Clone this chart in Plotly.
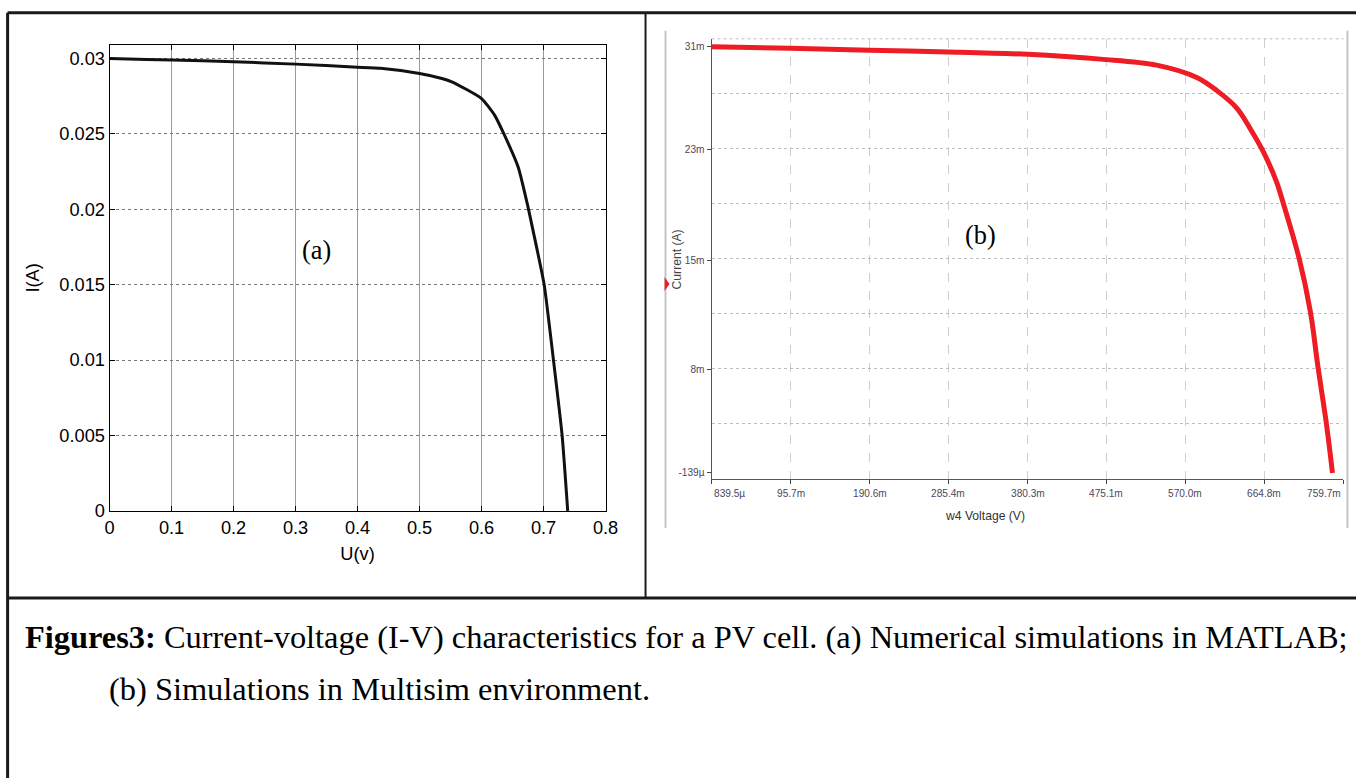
import plotly.graph_objects as go

# ---------------- data ----------------
# (a) MATLAB simulation
volt_a = [0.0, 0.06, 0.1, 0.2, 0.3, 0.4, 0.437, 0.5, 0.536, 0.552, 0.6, 0.621, 0.637,
          0.659, 0.675, 0.683, 0.701, 0.716, 0.730, 0.739]
curr_a = [0.0300, 0.02992, 0.02989, 0.02978, 0.02962, 0.02942, 0.02934, 0.0290, 0.02867,
          0.02845, 0.02734, 0.02624, 0.02491, 0.0228, 0.02014, 0.0186, 0.0150, 0.0100,
          0.0050, 0.0]
xticks_a = [0, 0.1, 0.2, 0.3, 0.4, 0.5, 0.6, 0.7, 0.8]
xticklabels_a = ["0", "0.1", "0.2", "0.3", "0.4", "0.5", "0.6", "0.7", "0.8"]
yticks_a = [0, 0.005, 0.01, 0.015, 0.02, 0.025, 0.03]
yticklabels_a = ["0", "0.005", "0.01", "0.015", "0.02", "0.025", "0.03"]

# (b) Multisim simulation (V, A)
volt_b = [0.00084, 0.0957, 0.1906, 0.2854, 0.3803, 0.4679, 0.5352, 0.5836, 0.6081,
          0.6316, 0.6481, 0.6640, 0.6801, 0.6853, 0.7069, 0.7201, 0.7289, 0.7393, 0.7465]
curr_b = [0.0310, 0.03089, 0.03074, 0.03063, 0.03045, 0.03010, 0.02966, 0.02876,
          0.02778, 0.02652, 0.02498, 0.02327, 0.02101, 0.0200, 0.01543, 0.01160,
          0.00770, 0.00342, -0.000139]
xticks_b = [0.0008395, 0.0957, 0.1906, 0.2854, 0.3803, 0.4751, 0.5700, 0.6648, 0.7597]
xticklabels_b = ["839.5\u00b5", "95.7m", "190.6m", "285.4m", "380.3m", "475.1m",
                 "570.0m", "664.8m", "759.7m"]
yticks_b = [0.0310, 0.0235, 0.0154, 0.0074, -0.000139]
yticklabels_b = ["31m", "23m", "15m", "8m", "-139\u00b5"]
ygrid_b_start = -0.000579
ygrid_b_step = 0.0040205

caption_bold = "Figures3:"
caption_line1 = " Current-voltage (I-V) characteristics for a PV cell. (a) Numerical simulations in MATLAB;"
caption_line2 = "(b) Simulations in Multisim environment."

# the page is photographed slightly reduced; compensate
S = 0.987
W, H = 1374, 788
def px(x):
    return ((x - 4.4) / S) / W
def py(y):
    return 1 - ((y + 0.8) / S) / H
def fs(v):
    return v / S

fig = go.Figure()

fig.add_trace(go.Scatter(x=volt_a, y=curr_a, mode="lines",
                         line=dict(color="#111111", width=3, shape="spline", smoothing=0.5),
                         xaxis="x", yaxis="y", showlegend=False, hoverinfo="skip"))

fig.add_trace(go.Scatter(x=volt_b, y=curr_b, mode="lines",
                         line=dict(color="#ee1c25", width=5, shape="spline", smoothing=1.0),
                         xaxis="x2", yaxis="y2", showlegend=False, hoverinfo="skip"))
# dummy trace so the label axis (y3) gets drawn
fig.add_trace(go.Scatter(x=[None], y=[None], xaxis="x2", yaxis="y3", showlegend=False,
                         hoverinfo="skip"))

sans = "Liberation Sans, Arial, sans-serif"
narrow = "Liberation Sans Narrow, Arial Narrow, Liberation Sans, Arial, sans-serif"
serif = "Liberation Serif, Times New Roman, serif"

yr_b = [ygrid_b_start, ygrid_b_start + 8 * ygrid_b_step + 1e-7]

layout = dict(
    width=W, height=H, margin=dict(l=0, r=0, t=0, b=0),
    paper_bgcolor="white", plot_bgcolor="white", showlegend=False,
    xaxis=dict(domain=[px(109), px(605)], range=[0, 0.8], tickvals=xticks_a,
               ticktext=xticklabels_a, ticks="inside", ticklen=5, tickcolor="black",
               showline=True, linecolor="black", linewidth=1, mirror="ticks",
               showgrid=True, gridcolor="#9a9a9a", gridwidth=1, zeroline=False,
               tickfont=dict(family=sans, size=fs(18), color="black"),
               title=dict(text="U(v)", font=dict(family=sans, size=fs(18), color="black"), standoff=10),
               anchor="y"),
    yaxis=dict(domain=[py(510), py(44)], range=[0, 0.0309], tickvals=yticks_a,
               ticktext=yticklabels_a, ticks="inside", ticklen=5, tickcolor="black",
               showline=True, linecolor="black", linewidth=1, mirror="ticks",
               showgrid=True, gridcolor="#777777", griddash="dot", gridwidth=1, zeroline=False,
               tickfont=dict(family=sans, size=fs(18), color="black"),
               title=dict(text="I(A)", font=dict(family=sans, size=fs(18), color="black"), standoff=14),
               anchor="x"),
    xaxis2=dict(domain=[px(711), px(1343)], range=[xticks_b[0], xticks_b[-1] + 1e-5],
                tickvals=xticks_b, showticklabels=False, ticks="outside", ticklen=4,
                tickcolor="#444", showline=True, linecolor="#555", linewidth=1,
                showgrid=True, gridcolor="#cfcfcf", griddash="dash", gridwidth=1,
                zeroline=False, anchor="y2"),
    yaxis2=dict(domain=[py(478), py(38)], range=yr_b,
                tick0=ygrid_b_start, dtick=ygrid_b_step, tickmode="linear",
                showticklabels=False, ticks="", showline=True, linecolor="#555", linewidth=1,
                showgrid=True, gridcolor="#bdbdbd", griddash="dot", gridwidth=1,
                zeroline=False, anchor="x2"),
    yaxis3=dict(overlaying="y2", range=yr_b, domain=[py(478), py(38)],
                tickvals=yticks_b, ticktext=yticklabels_b, ticks="outside", ticklen=4,
                tickcolor="#444", showgrid=False, zeroline=False, showline=False,
                tickfont=dict(family=narrow, size=fs(10), color="#4f4560"), anchor="x2",
                side="left"),
)
fig.update_layout(**layout)

ann = []
# x tick labels for (b)
for i, (v, t) in enumerate(zip(xticks_b, xticklabels_b)):
    anchor = "left" if i == 0 else ("right" if i == len(xticks_b) - 1 else "center")
    ann.append(dict(x=v, xref="x2", y=py(493), yref="paper", text=t, showarrow=False,
                    xanchor=anchor, yanchor="middle",
                    font=dict(family=narrow, size=fs(10), color="#4f4560")))
ann.append(dict(x=px(1027), y=py(515), xref="paper", yref="paper", text="w4 Voltage (V)",
                showarrow=False, font=dict(family=narrow, size=fs(12), color="#333")))
ann.append(dict(x=px(676), y=py(259), xref="paper", yref="paper", text="Current (A)",
                showarrow=False, textangle=-90, font=dict(family=sans, size=fs(12), color="#444")))
ann.append(dict(x=0.333, y=0.01727, xref="x", yref="y", text="(a)", showarrow=False,
                font=dict(family=serif, size=fs(26), color="black")))
ann.append(dict(x=0.3238, y=0.01718, xref="x2", yref="y2", text="(b)", showarrow=False,
                font=dict(family=serif, size=fs(26), color="black")))
# caption
ann.append(dict(x=px(22), y=py(636), xref="paper", yref="paper",
                text="<b>" + caption_bold + "</b>" + caption_line1, showarrow=False,
                xanchor="left", yanchor="middle", font=dict(family=serif, size=fs(32), color="black")))
ann.append(dict(x=px(106), y=py(688), xref="paper", yref="paper", text=caption_line2,
                showarrow=False, xanchor="left", yanchor="middle",
                font=dict(family=serif, size=fs(32), color="black")))
fig.update_layout(annotations=ann)

shapes = [
    # outer frame
    dict(type="line", xref="paper", yref="paper", x0=px(7), x1=1, y0=py(12), y1=py(12),
         line=dict(color="#1a1a1a", width=3)),
    dict(type="line", xref="paper", yref="paper", x0=px(7), x1=px(7), y0=py(12), y1=0,
         line=dict(color="#1a1a1a", width=3)),
    dict(type="line", xref="paper", yref="paper", x0=px(645), x1=px(645), y0=py(12), y1=py(597),
         line=dict(color="#1a1a1a", width=2)),
    dict(type="line", xref="paper", yref="paper", x0=px(7), x1=1, y0=py(597), y1=py(597),
         line=dict(color="#1a1a1a", width=3)),
    # top dotted border of the Multisim grid
    dict(type="line", xref="paper", yref="paper", x0=px(711), x1=px(1343), y0=py(38), y1=py(38),
         line=dict(color="#bdbdbd", width=1, dash="dot")),
    # screenshot frame of (b)
    dict(type="line", xref="paper", yref="paper", x0=px(665), x1=px(665), y0=py(30), y1=py(527),
         line=dict(color="#c4c4c4", width=2)),
    dict(type="line", xref="paper", yref="paper", x0=px(1347), x1=px(1347), y0=py(30), y1=py(527),
         line=dict(color="#c4c4c4", width=2)),
    dict(type="path", xref="paper", yref="paper",
         path=f"M {px(664)} {py(276)} L {px(669)} {py(283)} L {px(664)} {py(290)} Z",
         fillcolor="#ee1c25", line=dict(width=0)),
]
fig.update_layout(shapes=shapes)

fig.write_html(
    "out.html",
    config={"displayModeBar": False},
    post_script=(
        "document.documentElement.style.margin='0';document.body.style.margin='0';"
        "document.body.style.overflow='hidden';document.documentElement.style.overflow='hidden';"
        "var d=document.getElementById('{plot_id}');d.style.position='fixed';"
        "d.style.left='0px';d.style.top='0px';"
    ),
)
